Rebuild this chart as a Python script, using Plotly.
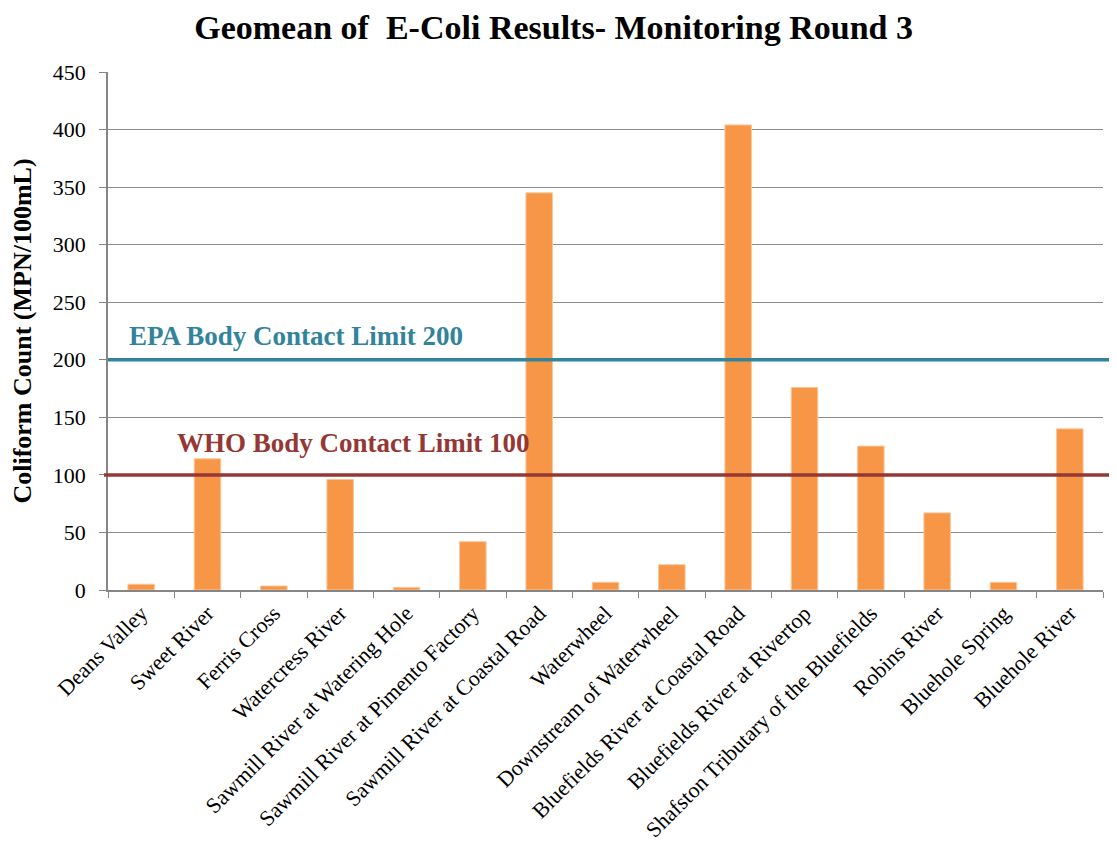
import plotly.graph_objects as go

sites = ["Deans Valley", "Sweet River", "Ferris Cross", "Watercress River",
         "Sawmill River at Watering Hole", "Sawmill River at Pimento Factory",
         "Sawmill River at Coastal Road", "Waterwheel", "Downstream of Waterwheel",
         "Bluefields River at Coastal Road", "Bluefields River at Rivertop",
         "Shafston Tributary of the Bluefields", "Robins River", "Bluehole Spring",
         "Bluehole River"]
geomean = [5, 114, 3.5, 96, 2.3, 42, 345, 6.7, 22, 404, 176, 125, 67, 6.7, 140]

epa_limit = 200
who_limit = 100
epa_label = "EPA Body Contact Limit 200"
who_label = "WHO Body Contact Limit 100"
y_ticks = [0, 50, 100, 150, 200, 250, 300, 350, 400, 450]

SERIF = "Liberation Serif, Times New Roman, serif"
EPA_C = "#31849B"
WHO_C = "#953735"

fig = go.Figure()
fig.add_trace(go.Bar(
    x=sites, y=geomean,
    marker=dict(color="#F79646", line=dict(color="#FBC79A", width=1)),
    width=0.4,
    showlegend=False,
    hoverinfo="x+y",
))

fig.add_shape(type="line", xref="paper", yref="y", x0=0, x1=1.02,
              y0=epa_limit, y1=epa_limit, line=dict(color=EPA_C, width=3.5), layer="above")
fig.add_shape(type="line", xref="paper", yref="y", x0=-0.004, x1=1.02,
              y0=who_limit, y1=who_limit, line=dict(color=WHO_C, width=3.5), layer="above")

fig.add_annotation(xref="paper", yref="y", x=0.019, y=epa_limit, yshift=24,
                   text=f"<b>{epa_label}</b>", showarrow=False, xanchor="left",
                   font=dict(family=SERIF, size=27, color=EPA_C))
fig.add_annotation(xref="paper", yref="y", x=0.067, y=who_limit, yshift=32,
                   text=f"<b>{who_label}</b>", showarrow=False, xanchor="left",
                   font=dict(family=SERIF, size=27, color=WHO_C))

fig.update_layout(
    width=1109, height=844,
    margin=dict(l=100, r=14, t=64, b=262, autoexpand=False),
    paper_bgcolor="white", plot_bgcolor="white",
    title=dict(text="<b>Geomean of  E-Coli Results- Monitoring Round 3</b>",
               x=0.492, xanchor="center", y=0.9775, yanchor="middle",
               font=dict(family=SERIF, size=34, color="black")),
    font=dict(family=SERIF, color="black"),
    xaxis=dict(
        type="category", tickangle=-45, tickfont=dict(family=SERIF, size=22, color="black"),
        showline=True, linecolor="#868686", linewidth=1.5,
        ticks="outside", tickson="boundaries", ticklen=6, tickcolor="#868686",
        showgrid=False, range=[-0.5, 14.5], automargin=False,
    ),
    yaxis=dict(
        range=[0, 450], tickvals=y_ticks, tickfont=dict(family=SERIF, size=22, color="black"),
        showline=True, linecolor="#868686", linewidth=1.5,
        ticks="outside", ticklen=7, tickcolor="#868686", ticklabelstandoff=9,
        showgrid=True, gridcolor="#8C8C8C", gridwidth=1.3,
        zeroline=False, automargin=False,
        title=dict(text="<b>Coliform Count (MPN/100mL)</b>",
                   font=dict(family=SERIF, size=26, color="black"), standoff=16),
    ),
)

fig.write_html("out.html")
